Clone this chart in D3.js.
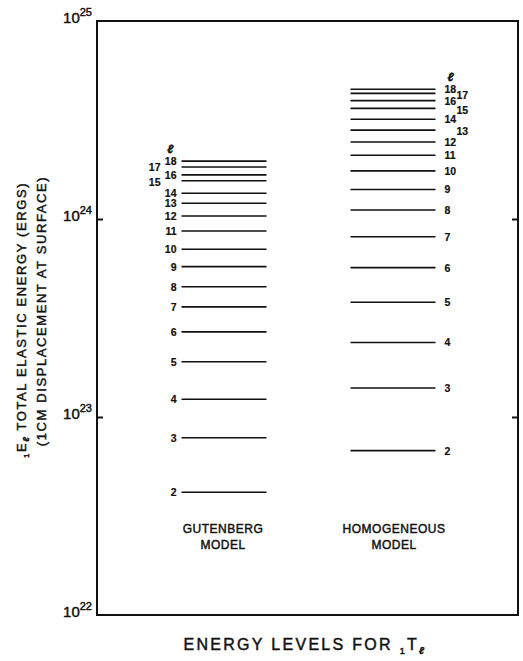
<!DOCTYPE html>
<html>
<head>
<meta charset="utf-8">
<script src="https://cdn.jsdelivr.net/npm/d3@7/dist/d3.min.js"></script>
<style>
  html, body { margin: 0; padding: 0; background: #fff; }
  svg { display: block; }
  text { font-family: "Liberation Sans", Arial, sans-serif; fill: #111; stroke: #111; stroke-width: 0.45px; }
  text.lvl { stroke-width: 0.2px; }
</style>
</head>
<body>
<svg id="chart" width="523" height="661"></svg>
<script>
// ---- data ----
const models = ["GUTENBERG", "HOMOGENEOUS"];
const modelLabels = [["GUTENBERG", "MODEL"], ["HOMOGENEOUS", "MODEL"]];
const levels = [2, 3, 4, 5, 6, 7, 8, 9, 10, 11, 12, 13, 14, 15, 16, 17, 18];
const gutenbergEnergy = [4.17e22, 7.85e22, 1.23e23, 1.90e23, 2.69e23, 3.60e23, 4.55e23, 5.75e23,
                         7.03e23, 8.69e23, 1.035e24, 1.20e24, 1.35e24, 1.56e24, 1.67e24, 1.83e24, 1.96e24];
const homogeneousEnergy = [6.76e22, 1.40e23, 2.38e23, 3.80e23, 5.68e23, 8.14e23, 1.11e24, 1.41e24,
                           1.75e24, 2.10e24, 2.45e24, 2.81e24, 3.19e24, 3.62e24, 3.96e24, 4.31e24, 4.52e24];
const yTickExponents = [22, 23, 24, 25];
const yTicks = [1e22, 1e23, 1e24, 1e25];

// ---- layout ----
const svg = d3.select("#chart");
const frame = { left: 97, right: 518, top: 21, bottom: 615 };
const y = d3.scaleLog().domain([1e22, 1e25]).range([frame.bottom, frame.top]);
const x = d3.scalePoint().domain(models).range([224, 393]);
const halfW = 42.5;

// frame
svg.append("rect")
  .attr("x", frame.left).attr("y", frame.top)
  .attr("width", frame.right - frame.left).attr("height", frame.bottom - frame.top)
  .attr("fill", "none").attr("stroke", "#111").attr("stroke-width", 2);

// inner ticks (left and right) for interior decades
const leftAxis = d3.axisRight(y).tickValues(yTicks.slice(1, -1)).tickSize(6).tickFormat("");
const rightAxis = d3.axisLeft(y).tickValues(yTicks.slice(1, -1)).tickSize(6).tickFormat("");
const gl = svg.append("g").attr("transform", `translate(${frame.left},0)`).call(leftAxis);
const gr = svg.append("g").attr("transform", `translate(${frame.right},0)`).call(rightAxis);
[gl, gr].forEach(g => {
  g.select(".domain").remove();
  g.selectAll(".tick line").attr("stroke", "#111").attr("stroke-width", 2);
});

// tick labels 10^n
yTicks.forEach((v, i) => {
  const t = svg.append("text")
    .attr("x", frame.left - 5).attr("y", y(v) + 2)
    .attr("text-anchor", "end")
    .style("font-size", "15px");
  t.append("tspan").text("10");
  t.append("tspan").attr("dy", -7).style("font-size", "11px").text(yTickExponents[i]);
});

// level lines
const series = [gutenbergEnergy, homogeneousEnergy];
series.forEach((vals, si) => {
  const cx = x(models[si]);
  const g = svg.append("g");
  g.selectAll("line").data(vals).join("line")
    .attr("x1", cx - halfW).attr("x2", cx + halfW)
    .attr("y1", d => y(d)).attr("y2", d => y(d))
    .attr("stroke", "#111").attr("stroke-width", 1.6);

  // labels
  g.selectAll("text.lvl").data(levels).join("text")
    .attr("class", "lvl")
    .attr("x", (d) => {
      if (si === 0) {
        const stag = (d === 17 || d === 15);
        return cx - halfW - (stag ? 21 : 5);
      } else {
        const stag = (d === 17 || d === 15 || d === 13);
        return cx + halfW + (stag ? 21 : 9);
      }
    })
    .attr("y", (d, i) => {
      let yy = y(vals[i]) + 4;
      if (si === 1 && d === 17) yy += 2;
      if (si === 1 && d === 15) yy += 2;
      if (si === 1 && d === 13) yy += 1;
      if (si === 0 && d === 15) yy += 1;
      return yy;
    })
    .attr("text-anchor", si === 0 ? "end" : "start")
    .style("font-size", "10.5px").style("font-weight", "bold")
    .text(d => d);

  // ell symbol above
  g.append("text")
    .attr("x", si === 0 ? cx - halfW - 8 : cx + halfW + 12)
    .attr("y", y(vals[vals.length - 1]) - 8)
    .attr("text-anchor", si === 0 ? "end" : "start")
    .style("font-size", "12px").style("font-weight", "bold").style("font-style", "italic")
    .text("ℓ");

  // model label
  const ml = svg.append("text")
    .attr("text-anchor", "middle")
    .style("font-size", "12px").style("letter-spacing", "0.5px");
  modelLabels[si].forEach((s, k) => {
    ml.append("tspan").attr("x", cx - (si === 0 ? 1 : -1)).attr("y", 533 + k * 16).text(s);
  });
});

// x-axis title
const xt = svg.append("text")
  .attr("x", 305).attr("y", 650)
  .attr("text-anchor", "middle")
  .style("font-size", "16px").style("letter-spacing", "2.3px");
xt.append("tspan").text("ENERGY LEVELS FOR ");
xt.append("tspan").attr("dy", 4).style("font-size", "9px").text("1");
xt.append("tspan").attr("dy", -4).text("T");
xt.append("tspan").attr("dy", 4).style("font-size", "10px").style("font-style", "italic").style("font-weight", "bold").text("ℓ");

// y-axis title (two rotated lines)
const yt1 = svg.append("text")
  .attr("transform", "translate(26,320) rotate(-90)")
  .attr("text-anchor", "middle")
  .style("font-size", "13px").style("letter-spacing", "1.6px");
yt1.append("tspan").attr("dy", 3).style("font-size", "8px").text("1");
yt1.append("tspan").attr("dy", -3).text("E");
yt1.append("tspan").attr("dy", 3).style("font-size", "9px").style("font-style", "italic").style("font-weight", "bold").text("ℓ");
yt1.append("tspan").attr("dy", -3).text("  TOTAL ELASTIC ENERGY (ERGS)");

svg.append("text")
  .attr("transform", "translate(46,311) rotate(-90)")
  .attr("text-anchor", "middle")
  .style("font-size", "13px").style("letter-spacing", "1.6px")
  .text("(1CM DISPLACEMENT AT SURFACE)");
</script>
</body>
</html>
